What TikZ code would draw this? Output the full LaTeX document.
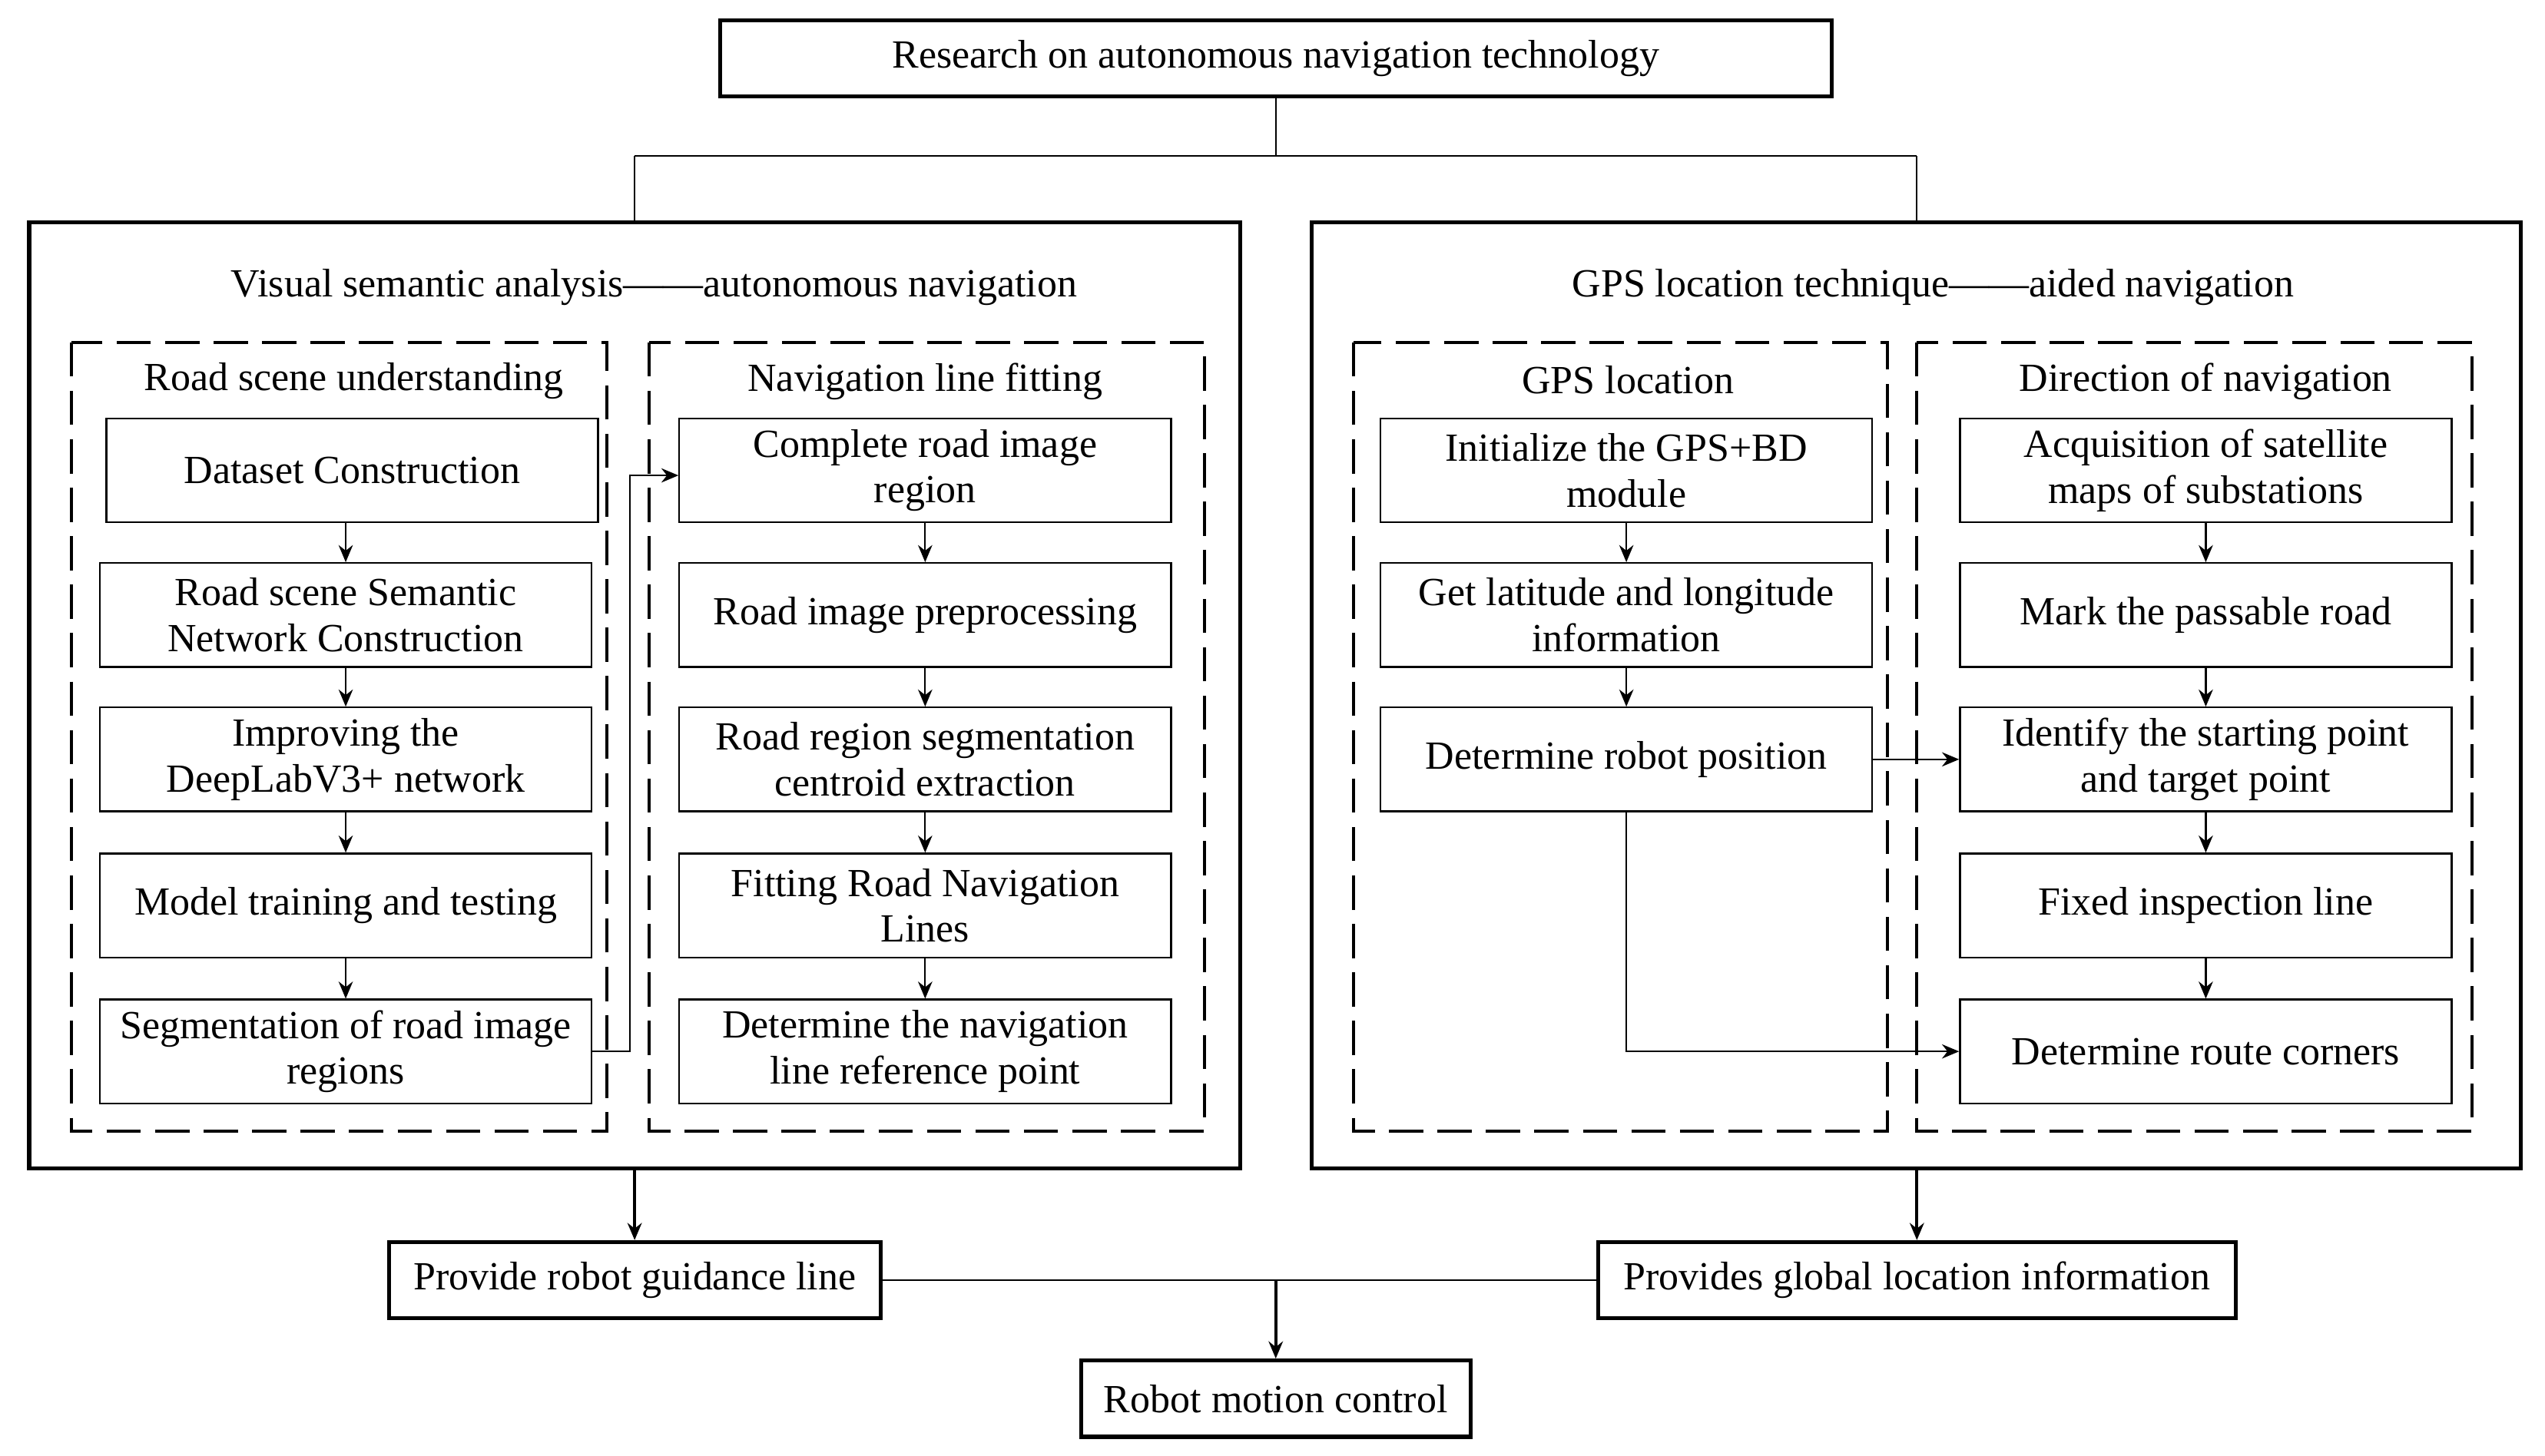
\documentclass[tikz,border=0pt]{standalone}
\usepackage{fontspec}
\setmainfont{Liberation Serif}
\usetikzlibrary{arrows.meta}
\begin{document}
\begin{tikzpicture}[x=0.02cm,y=-0.02cm,
  font=\fontsize{14}{16}\selectfont,
  box/.style={draw,line width=0.6pt,minimum width=6.06cm,minimum height=1.28cm,align=center,inner sep=1pt},
  bigbox/.style={draw,line width=1.4pt},
  dashbox/.style={draw,line width=1pt,dash pattern=on 12pt off 5pt},
  obox/.style={draw,line width=1.4pt,minimum height=0.94cm,inner sep=6pt},
  arr/.style={-{Stealth[length=6pt,width=5pt]},line width=0.6pt},
  ln/.style={line width=0.6pt}]
\useasboundingbox (0,0) rectangle (1568,897);
\node[obox,minimum width=13.7cm] (top) at (786,36) {Research on autonomous navigation technology};
\draw[bigbox] (18,137) rectangle (764,720);
\draw[bigbox] (808,137) rectangle (1553,720);
\coordinate (L) at (391,137); \coordinate (R) at (1181,137);
\coordinate (j) at (786,96);
\draw[ln] (top.south) -- (j); \draw[ln] (391,96) -- (1181,96);
\draw[ln] (391,96) -- (L); \draw[ln] (1181,96) -- (R);
\node at (403,177) {Visual semantic analysis——autonomous navigation};
\node at (1191,177) {GPS location technique——aided navigation};
\draw[dashbox] (44,211) rectangle (374,697);
\draw[dashbox] (400,211) rectangle (742,697);
\draw[dashbox] (834,211) rectangle (1163,697);
\draw[dashbox] (1181,211) rectangle (1523,697);
\node at (218,235) {Road scene understanding};
\node at (570,235) {Navigation line fitting};
\node at (1003,234) {GPS location};
\node at (1359,235) {Direction of navigation};
\node[box] (a1) at (217,290) {Dataset Construction};
\node[box] (a2) at (213,379) {Road scene Semantic\\Network Construction};
\node[box] (a3) at (213,468) {Improving the\\DeepLabV3+ network};
\node[box] (a4) at (213,558) {Model training and testing};
\node[box] (a5) at (213,648) {Segmentation of road image\\regions};
\node[box] (b1) at (570,290) {Complete road image\\region};
\node[box] (b2) at (570,379) {Road image preprocessing};
\node[box] (b3) at (570,468) {Road region segmentation\\centroid extraction};
\node[box] (b4) at (570,558) {Fitting Road Navigation\\Lines};
\node[box] (b5) at (570,648) {Determine the navigation\\line reference point};
\node[box] (c1) at (1002,290) {Initialize the GPS+BD\\module};
\node[box] (c2) at (1002,379) {Get latitude and longitude\\information};
\node[box] (c3) at (1002,468) {Determine robot position};
\node[box] (d1) at (1359,290) {Acquisition of satellite\\maps of substations};
\node[box] (d2) at (1359,379) {Mark the passable road};
\node[box] (d3) at (1359,468) {Identify the starting point\\and target point};
\node[box] (d4) at (1359,558) {Fixed inspection line};
\node[box] (d5) at (1359,648) {Determine route corners};
\draw[arr] (a1.south -| a2) -- (a2);
\foreach \p/\q in {a2/a3,a3/a4,a4/a5,b1/b2,b2/b3,b3/b4,b4/b5,c1/c2,c2/c3,d1/d2,d2/d3,d3/d4,d4/d5}
  \draw[arr] (\p) -- (\q);
\draw[arr] (a5.east) -- (388,648) -- (388,293) -- (b1.west |- 0,293);
\draw[arr] (c3) -- (d3);
\draw[arr] (c3.south) -- (1002,648) -- (d5.west);
\node[obox,minimum width=6.06cm] (g) at (391,789) {Provide robot guidance line};
\node[obox,minimum width=7.86cm] (p) at (1181,789) {Provides global location information};
\node[obox,minimum width=4.8cm] (m) at (786,862) {Robot motion control};
\draw[arr,line width=1pt] (391,720) -- (g);
\draw[arr,line width=1pt] (1181,720) -- (p);
\draw[ln] (g) -- (p);
\draw[arr,line width=1pt] (786,789) -- (m);
\end{tikzpicture}
\end{document}
